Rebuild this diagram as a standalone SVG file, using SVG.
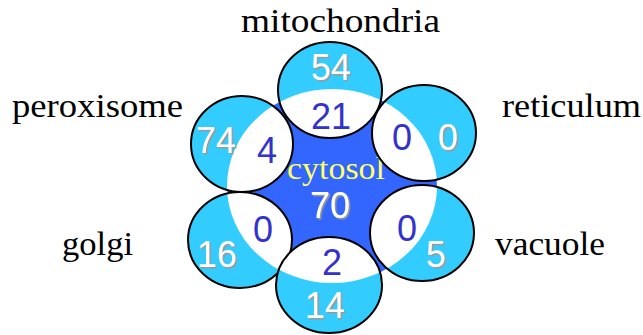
<svg xmlns="http://www.w3.org/2000/svg" width="643" height="335" viewBox="0 0 643 335">
  <style>
    .outer { fill: #33ccff; }
    .ring { fill: none; stroke: #000; stroke-width: 2; }
    .overlap { fill: #fff; }
    .label { font-family: "Liberation Serif", "Times New Roman", serif; font-size: 33px; fill: #000; }
    .num { font-family: "Liberation Sans", Arial, sans-serif; font-size: 36px; text-anchor: middle; }
    .in { fill: #3333cc; }
    .out { fill: #fff; filter: url(#shadow); }
  </style>
  <defs>
    <filter id="shadow" x="-20%" y="-20%" width="150%" height="150%">
      <feDropShadow dx="1.5" dy="1.5" stdDeviation="0.4" flood-color="#9a9a9a" flood-opacity="1"/>
    </filter>
    <ellipse id="core" cx="332" cy="186" rx="105" ry="97"/>
    <clipPath id="c-mito"><ellipse cx="330" cy="90" rx="52" ry="48"/></clipPath>
    <clipPath id="c-perox"><ellipse cx="242" cy="144" rx="51" ry="48"/></clipPath>
    <clipPath id="c-ret"><ellipse cx="424" cy="133" rx="52" ry="48"/></clipPath>
    <clipPath id="c-golgi"><ellipse cx="240" cy="240" rx="52" ry="48"/></clipPath>
    <clipPath id="c-vac"><ellipse cx="422" cy="233" rx="52" ry="48"/></clipPath>
    <clipPath id="c-bottom"><ellipse cx="329" cy="285" rx="53" ry="48"/></clipPath>
  </defs>

  <rect width="643" height="335" fill="#fff"/>

  <!-- cytosol -->
  <g id="cytosol">
    <use href="#core" fill="#3366ff"/>
    <text x="336" y="179" font-family="Liberation Serif, Times New Roman, serif" font-size="31" fill="#ffff66" text-anchor="middle" textLength="98" lengthAdjust="spacingAndGlyphs">cytosol</text>
    <text class="num out" x="330" y="218">70</text>
  </g>

  <!-- mitochondria -->
  <g id="mitochondria">
    <ellipse class="outer" cx="330" cy="90" rx="52" ry="48"/>
    <use href="#core" class="overlap" clip-path="url(#c-mito)"/>
    <ellipse class="ring" cx="330" cy="90" rx="52" ry="48"/>
    <text class="num out" x="331" y="80">54</text>
    <text class="num in" x="331" y="129">21</text>
  </g>

  <!-- peroxisome -->
  <g id="peroxisome">
    <ellipse class="outer" cx="242" cy="144" rx="51" ry="48"/>
    <use href="#core" class="overlap" clip-path="url(#c-perox)"/>
    <ellipse class="ring" cx="242" cy="144" rx="51" ry="48"/>
    <text class="num out" x="216" y="153">74</text>
    <text class="num in" x="267" y="163">4</text>
  </g>

  <!-- reticulum -->
  <g id="reticulum">
    <ellipse class="outer" cx="424" cy="133" rx="52" ry="48"/>
    <use href="#core" class="overlap" clip-path="url(#c-ret)"/>
    <ellipse class="ring" cx="424" cy="133" rx="52" ry="48"/>
    <text class="num in" x="402" y="150">0</text>
    <text class="num out" x="448" y="150">0</text>
  </g>

  <!-- golgi -->
  <g id="golgi">
    <ellipse class="outer" cx="240" cy="240" rx="52" ry="48"/>
    <use href="#core" class="overlap" clip-path="url(#c-golgi)"/>
    <ellipse class="ring" cx="240" cy="240" rx="52" ry="48"/>
    <text class="num in" x="263" y="242">0</text>
    <text class="num out" x="217" y="267">16</text>
  </g>

  <!-- vacuole -->
  <g id="vacuole">
    <ellipse class="outer" cx="422" cy="233" rx="52" ry="48"/>
    <use href="#core" class="overlap" clip-path="url(#c-vac)"/>
    <ellipse class="ring" cx="422" cy="233" rx="52" ry="48"/>
    <text class="num in" x="407" y="241">0</text>
    <text class="num out" x="436" y="267">5</text>
  </g>

  <!-- bottom compartment -->
  <g id="bottom">
    <ellipse class="outer" cx="329" cy="285" rx="53" ry="48"/>
    <use href="#core" class="overlap" clip-path="url(#c-bottom)"/>
    <ellipse class="ring" cx="329" cy="285" rx="53" ry="48"/>
    <text class="num in" x="332" y="275">2</text>
    <text class="num out" x="325" y="318">14</text>
  </g>

  <!-- compartment names -->
  <g id="labels">
    <text class="label" x="241" y="32" textLength="199" lengthAdjust="spacingAndGlyphs">mitochondria</text>
    <text class="label" x="12" y="117" textLength="171" lengthAdjust="spacingAndGlyphs">peroxisome</text>
    <text class="label" x="502" y="117" textLength="139" lengthAdjust="spacingAndGlyphs">reticulum</text>
    <text class="label" x="62" y="255" textLength="71" lengthAdjust="spacingAndGlyphs">golgi</text>
    <text class="label" x="495" y="255" textLength="110" lengthAdjust="spacingAndGlyphs">vacuole</text>
  </g>
</svg>
